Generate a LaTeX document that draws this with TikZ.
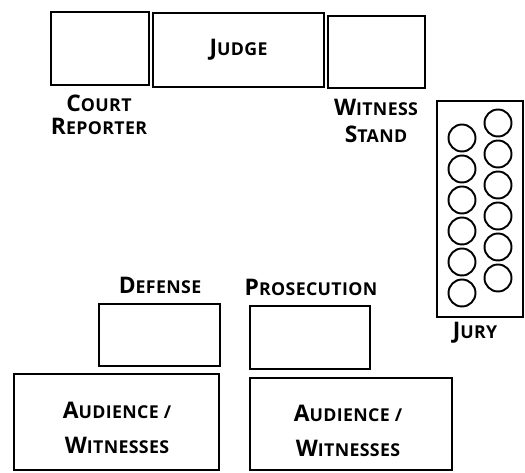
\documentclass[tikz,border=0pt]{standalone}
\usepackage{fontspec}
\setmainfont{Open Sans}[LetterSpace=2]
\usepackage{tikz}
\usetikzlibrary{positioning}

% fake small caps: big first letter, small capitals after it
\newcommand{\capword}[2]{{\fontsize{13}{13}\selectfont #1}{\fontsize{10.1}{13}\selectfont #2}}

\tikzset{
  area/.style={draw, line width=1.1pt, inner sep=0pt},
  seat/.style={draw, circle, line width=1.1pt, minimum size=0.54cm, inner sep=0pt},
  tag/.style={font=\bfseries, align=center, inner sep=0pt}
}

\begin{document}
\begin{tikzpicture}[x=0.02cm,y=-0.02cm]
  \useasboundingbox (0,0) rectangle (525,473);
  % bench row
  \node[area, minimum width=1.96cm, minimum height=1.46cm] (reporter) at (100,48.5) {};
  \node[area, minimum width=3.42cm, minimum height=1.48cm] (judge) at (238.5,50)
    {\bfseries\capword{J}{UDGE}};
  \node[area, minimum width=1.94cm, minimum height=1.44cm] (witness) at (376.5,52) {};
  \node[tag] (reporterlbl) at (99,115) {\capword{C}{OURT}\\[1pt]\capword{R}{EPORTER}};
  \node[tag] (witnesslbl) at (376,121) {\capword{W}{ITNESS}\\[3pt]\capword{S}{TAND}};
  % jury box
  \node[area, minimum width=1.72cm, minimum height=4.32cm] (jury) at (480,209) {};
  \foreach \i in {0,...,5}{
    \node[seat] (seatl\i) at (462,138+31*\i) {};
    \node[seat] (seatr\i) at (498,123+31*\i) {};
  }
  \node[tag] (jurylbl) at (475,333) {\capword{J}{URY}};
  % tables
  \node[tag] (defenselbl) at (160,285) {\capword{D}{EFENSE}};
  \node[tag] (prosecutionlbl) at (311,287) {\capword{P}{ROSECUTION}};
  \node[area, minimum width=2.42cm, minimum height=1.24cm] (defense) at (159.5,335) {};
  \node[area, minimum width=2.4cm, minimum height=1.26cm] (prosecution) at (310,337.5) {};
  % gallery
  \node[area, minimum width=4.1cm, minimum height=1.92cm, align=center] (audiencel) at (116.5,422) {};
  \node[area, minimum width=4.04cm, minimum height=1.84cm, align=center] (audiencer) at (351,424) {};
  \node[tag] (audiencellbl) at (117,428)
    {\capword{A}{UDIENCE /}\\[8pt]\capword{W}{ITNESSES}};
  \node[tag] (audiencerlbl) at (348,431)
    {\capword{A}{UDIENCE /}\\[8pt]\capword{W}{ITNESSES}};
\end{tikzpicture}
\end{document}
